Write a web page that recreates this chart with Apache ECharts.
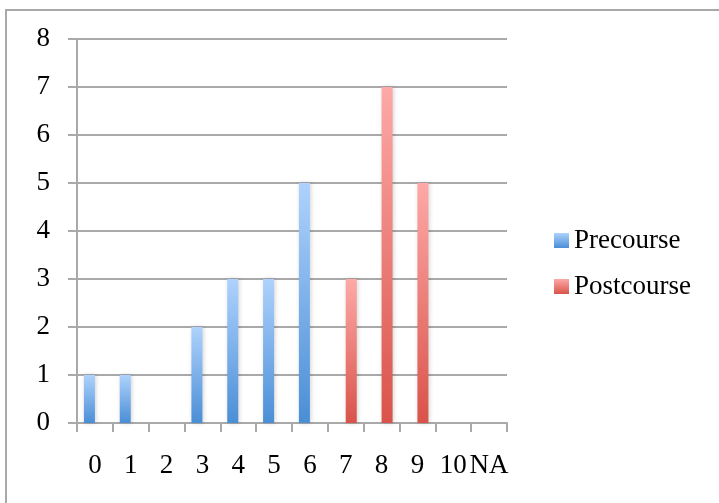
<!DOCTYPE html>
<html>
<head>
<meta charset="utf-8">
<script src="https://cdn.jsdelivr.net/npm/echarts@6/dist/echarts.min.js"></script>
<style>
  html, body { margin: 0; padding: 0; background: #ffffff; }
  #chart { width: 719px; height: 503px; }
</style>
</head>
<body>
<div id="chart"></div>
<script>
// Score categories along the x axis
const categories = ['0', '1', '2', '3', '4', '5', '6', '7', '8', '9', '10', 'NA'];

// Number of respondents per score
const precourse  = [1, 1, 0, 2, 3, 3, 5, 0, 0, 0, 0, 0];
const postcourse = [0, 0, 0, 0, 0, 0, 0, 3, 7, 5, 0, 0];

// Value axis ticks
const yMin = 0, yMax = 8, yStep = 1;

const FONT = 'Liberation Serif';
const FONT_SIZE = 27;
const GRID_COLOR = '#a9a9a9';

function vGradient(top, bottom) {
  return new echarts.graphic.LinearGradient(0, 0, 0, 1, [
    { offset: 0, color: top },
    { offset: 1, color: bottom }
  ]);
}

// Empty counts become gaps so no zero-height marks are drawn
const asBars = arr => arr.map(v => (v === 0 ? '-' : v));

const chart = echarts.init(document.getElementById('chart'), null, { renderer: 'canvas' });

chart.setOption({
  backgroundColor: '#ffffff',
  animation: false,
  graphic: [{
    type: 'rect',
    shape: { x: 6, y: 10, width: 800, height: 600 },
    style: { fill: 'none', stroke: '#a9a9a9', lineWidth: 2 },
    silent: true
  }],
  grid: { left: 77, right: 212, top: 39, bottom: 80 },
  legend: {
    orient: 'vertical',
    left: 549,
    top: 222,
    itemWidth: 15,
    itemHeight: 15,
    itemGap: 19,
    icon: 'rect',
    textStyle: { fontFamily: FONT, fontSize: FONT_SIZE, color: '#000000' },
    data: ['Precourse', 'Postcourse']
  },
  xAxis: {
    type: 'category',
    data: categories,
    boundaryGap: true,
    axisLine: { show: true, lineStyle: { color: GRID_COLOR, width: 2 } },
    axisTick: { show: true, alignWithLabel: false, length: 9, lineStyle: { color: GRID_COLOR, width: 2 } },
    axisLabel: { fontFamily: FONT, fontSize: FONT_SIZE, color: '#000000', margin: 29, interval: 0 },
    splitLine: { show: false }
  },
  yAxis: {
    type: 'value',
    min: yMin,
    max: yMax,
    interval: yStep,
    axisLine: { show: true, lineStyle: { color: GRID_COLOR, width: 2 } },
    axisTick: { show: true, length: 9, lineStyle: { color: GRID_COLOR, width: 2 } },
    axisLabel: { fontFamily: FONT, fontSize: FONT_SIZE, color: '#000000', margin: 27 },
    splitLine: { show: true, lineStyle: { color: GRID_COLOR, width: 2 } }
  },
  series: [
    {
      name: 'Precourse',
      type: 'bar',
      data: asBars(precourse),
      barWidth: 11,
      barGap: '0%',
      itemStyle: {
        color: vGradient('#aed2fd', '#4a8ed6'),
        shadowColor: 'rgba(0,0,0,0.18)',
        shadowBlur: 4,
        shadowOffsetX: 1
      }
    },
    {
      name: 'Postcourse',
      type: 'bar',
      data: asBars(postcourse),
      barWidth: 11,
      barGap: '0%',
      itemStyle: {
        color: vGradient('#fda9a7', '#d9534a'),
        shadowColor: 'rgba(0,0,0,0.18)',
        shadowBlur: 4,
        shadowOffsetX: 1
      }
    }
  ]
});
</script>
</body>
</html>
